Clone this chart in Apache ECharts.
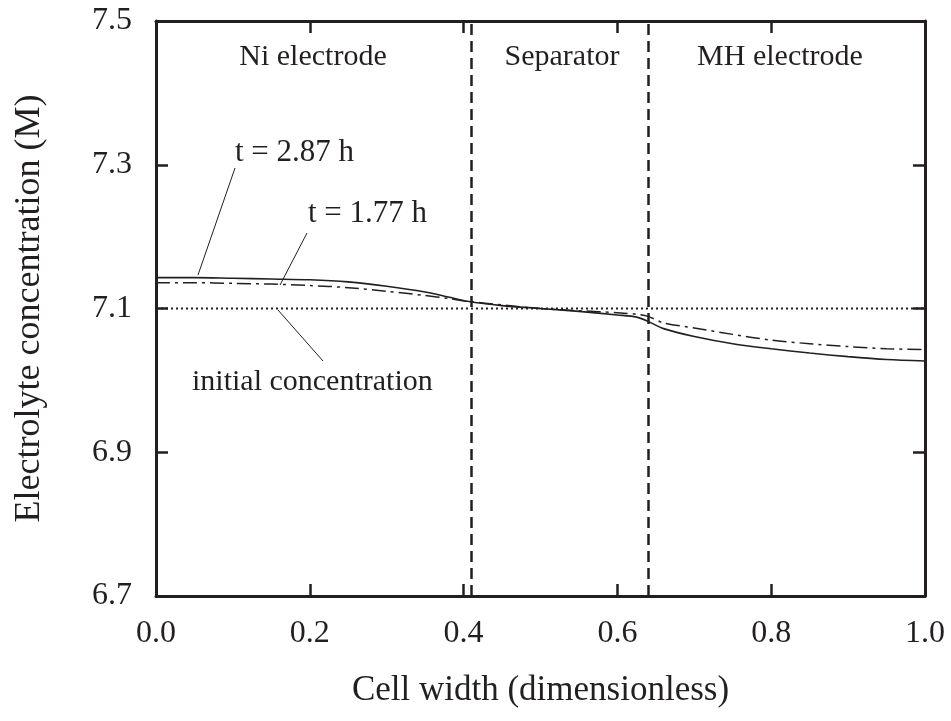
<!DOCTYPE html>
<html>
<head>
<meta charset="utf-8">
<title>Electrolyte concentration</title>
<script src="https://cdn.jsdelivr.net/npm/echarts@6/dist/echarts.min.js"></script>
<style>
  html, body { margin: 0; padding: 0; background: #fff; }
  #chart { width: 951px; height: 721px; }
</style>
</head>
<body>
<div id="chart"></div>
<script>
// cell position (dimensionless)
var cellX = [0, 0.05, 0.1, 0.15, 0.2, 0.25, 0.3, 0.35, 0.38, 0.405, 0.45, 0.5,
  0.55, 0.6, 0.625, 0.64, 0.66, 0.7, 0.75, 0.8, 0.85, 0.9, 0.95, 1.0];
// t = 2.87 h
var conc287 = [7.143, 7.143, 7.142, 7.141, 7.140, 7.137, 7.131, 7.123, 7.116, 7.110, 7.104, 7.100,
  7.096, 7.091, 7.088, 7.082, 7.072, 7.061, 7.051, 7.044, 7.038, 7.033, 7.029, 7.027];
// t = 1.77 h
var conc177 = [7.136, 7.136, 7.135, 7.134, 7.132, 7.129, 7.124, 7.118, 7.114, 7.110, 7.105, 7.100,
  7.097, 7.094, 7.092, 7.089, 7.080, 7.073, 7.064, 7.056, 7.051, 7.047, 7.044, 7.043];
var initialX = [0, 1];
var initialConc = [7.1, 7.1];
var boundaries = [0.405, 0.64];
var regionNames = ["Ni electrode", "Separator", "MH electrode"];

var ink = "#231f20";
var serif = '"Liberation Serif", "DejaVu Serif", serif';

function pairs(xs, ys) {
  return xs.map(function (x, i) { return [x, ys[i]]; });
}

var chart = echarts.init(document.getElementById("chart"));

var baseX = {
  type: "value", min: 0, max: 1, interval: 0.2,
  axisLine: { onZero: false, lineStyle: { color: ink, width: 3 } },
  axisTick: { inside: true, length: 12, lineStyle: { color: ink, width: 2.5 } },
  splitLine: { show: false }
};
var baseY = {
  type: "value", min: 6.7, max: 7.5, interval: 0.2,
  axisLine: { onZero: false, lineStyle: { color: ink, width: 3 } },
  axisTick: { inside: true, length: 12, lineStyle: { color: ink, width: 2.5 } },
  splitLine: { show: false }
};

var option = {
  animation: false,
  backgroundColor: "#fff",
  grid: { left: 156, right: 26, top: 21, bottom: 125 },
  xAxis: [
    Object.assign({}, baseX, {
      position: "bottom",
      name: "Cell width (dimensionless)",
      nameLocation: "middle",
      nameGap: 77,
      nameTextStyle: { fontFamily: serif, fontSize: 35, color: ink },
      axisLabel: {
        margin: 22, fontFamily: serif, fontSize: 32, color: ink,
        formatter: function (v) { return v.toFixed(1); }
      }
    }),
    Object.assign({}, baseX, { position: "top", axisLabel: { show: false } })
  ],
  yAxis: [
    Object.assign({}, baseY, {
      position: "left",
      name: "Electrolyte concentration (M)",
      nameLocation: "middle",
      nameGap: 108,
      nameTextStyle: { fontFamily: serif, fontSize: 36, color: ink },
      axisLabel: {
        margin: 24, fontFamily: serif, fontSize: 32, color: ink,
        formatter: function (v) { return v.toFixed(1); }
      }
    }),
    Object.assign({}, baseY, { position: "right", axisLabel: { show: false } })
  ],
  series: [
    {
      name: "initial concentration",
      type: "line",
      data: pairs(initialX, initialConc),
      showSymbol: false,
      lineStyle: { color: ink, width: 2, type: [2, 3] },
      markLine: {
        silent: true,
        symbol: "none",
        label: { show: false },
        lineStyle: { color: ink, width: 2.5, type: [11, 6] },
        data: boundaries.map(function (b) { return { xAxis: b }; })
      }
    },
    {
      name: "t = 1.77 h",
      type: "line",
      data: pairs(cellX, conc177),
      showSymbol: false,
      smooth: 0.3,
      lineStyle: { color: ink, width: 1.5, type: [14, 5, 3, 5] }
    },
    {
      name: "t = 2.87 h",
      type: "line",
      data: pairs(cellX, conc287),
      showSymbol: false,
      smooth: 0.3,
      lineStyle: { color: ink, width: 1.6 }
    }
  ],
  graphic: [
    { type: "text", x: 313, y: 57, style: { text: regionNames[0], font: "30px " + serif, fill: ink, align: "center", verticalAlign: "middle" } },
    { type: "text", x: 562, y: 57, style: { text: regionNames[1], font: "30px " + serif, fill: ink, align: "center", verticalAlign: "middle" } },
    { type: "text", x: 780, y: 57, style: { text: regionNames[2], font: "30px " + serif, fill: ink, align: "center", verticalAlign: "middle" } },
    { type: "text", x: 235, y: 153, style: { text: "t = 2.87 h", font: "31px " + serif, fill: ink, align: "left", verticalAlign: "middle" } },
    { type: "text", x: 308, y: 214, style: { text: "t = 1.77 h", font: "31px " + serif, fill: ink, align: "left", verticalAlign: "middle" } },
    { type: "text", x: 192, y: 382, style: { text: "initial concentration", font: "30px " + serif, fill: ink, align: "left", verticalAlign: "middle" } },
    { type: "line", shape: { x1: 235, y1: 168, x2: 198, y2: 275 }, style: { stroke: ink, lineWidth: 1 } },
    { type: "line", shape: { x1: 307, y1: 233, x2: 280, y2: 285 }, style: { stroke: ink, lineWidth: 1 } },
    { type: "line", shape: { x1: 278, y1: 310, x2: 323, y2: 361 }, style: { stroke: ink, lineWidth: 1 } }
  ]
};

chart.setOption(option);
</script>
</body>
</html>
